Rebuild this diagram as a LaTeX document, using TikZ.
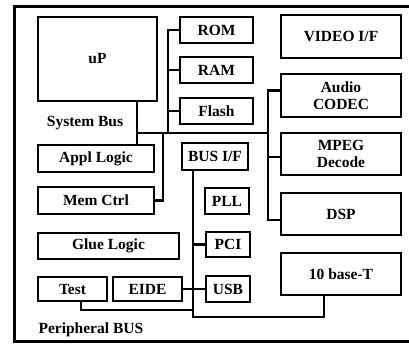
\documentclass[tikz,border=0pt]{standalone}
\usepackage{fontspec}
\setmainfont{Liberation Serif}
\usetikzlibrary{positioning,calc}

\begin{document}
\begin{tikzpicture}[
  x=1pt, y=-1pt,
  blk/.style={draw, line width=1.8pt, align=center, inner sep=0pt,
              font=\bfseries\fontsize{15.5}{16.5}\selectfont},
  bus/.style={line width=2.6pt},
  lab/.style={font=\bfseries\fontsize{15.5}{16.5}\selectfont},
]
\useasboundingbox (0,0) rectangle (409,345);
\draw[line width=3pt] (14,7) rectangle (414,341);
\node[blk, minimum width=119pt, minimum height=84pt] (up) at (97.5,59) {uP};
\node[blk, minimum width=73pt, minimum height=26pt] (rom) at (216.5,30) {ROM};
\node[blk, minimum width=73pt, minimum height=26pt] (ram) at (216.5,70) {RAM};
\node[blk, minimum width=73pt, minimum height=26pt] (flash) at (216.5,111) {Flash};
\node[blk, minimum width=120pt, minimum height=43pt] (video) at (341,36.5) {VIDEO I/F};
\node[blk, minimum width=120pt, minimum height=43pt] (audio) at (341,95.5) {Audio\\CODEC};
\node[blk, minimum width=120pt, minimum height=42pt] (mpeg) at (341,154) {MPEG\\Decode};
\node[blk, minimum width=120pt, minimum height=42pt] (dsp) at (341,214) {DSP};
\node[blk, minimum width=120pt, minimum height=42pt] (tenbase) at (341,274) {10 base-T};
\node[blk, minimum width=116pt, minimum height=27pt] (appl) at (96,158.5) {Appl Logic};
\node[blk, minimum width=116pt, minimum height=27pt] (memctrl) at (96,200.5) {Mem Ctrl};
\node[blk, minimum width=141pt, minimum height=26pt] (glue) at (108.5,246) {Glue Logic};
\node[blk, minimum width=69pt, minimum height=24pt] (test) at (72.5,289) {Test};
\node[blk, minimum width=69pt, minimum height=24pt] (eide) at (147.5,289) {EIDE};
\node[blk, minimum width=66pt, minimum height=27pt] (busif) at (215,156.5) {BUS I/F};
\node[blk, minimum width=44pt, minimum height=26pt] (pll) at (227,201) {PLL};
\node[blk, minimum width=44pt, minimum height=25pt] (pci) at (228,244.5) {PCI};
\node[blk, minimum width=44pt, minimum height=26pt] (usb) at (228,289) {USB};
\node[lab] (sysbus) at (85,123) {System Bus};
\node[lab, anchor=west] (perbus) at (35,330) {Peripheral BUS};
\coordinate (sysL) at (137,133);
\coordinate (sysR) at (268,133);
\coordinate (memT) at (168,133);
\coordinate (memB) at (163,133);
\coordinate (pb) at (193,317);
\coordinate (tb) at (193,310);
% system bus
\draw[bus] (up.south -| sysL) -- (appl.north -| sysL);
\draw[bus] (sysL) -- (sysR);
\draw[bus] (rom.west) -| (memT);
\draw[bus] (ram.west) -- (ram.west -| memT);
\draw[bus] (flash.west) -- (flash.west -| memT);
\draw[bus] (memctrl.east) -| (memB);
\draw[bus] ([yshift=5pt]audio.west) -| (sysR) |- ([yshift=-6pt]dsp.west);
\draw[bus] ([yshift=-3pt]mpeg.west) -- ([yshift=-3pt]mpeg.west -| sysR);
% peripheral bus
\draw[bus] (busif.south -| pb) -- (pb) -| ([xshift=-17pt]tenbase.south);
\draw[bus] (pci.west) -- (pci.west -| pb);
\draw[bus] (eide.east) -- (usb.west);
\draw[bus] ([xshift=8.5pt]test.south) |- (tb);
\end{tikzpicture}
\end{document}
